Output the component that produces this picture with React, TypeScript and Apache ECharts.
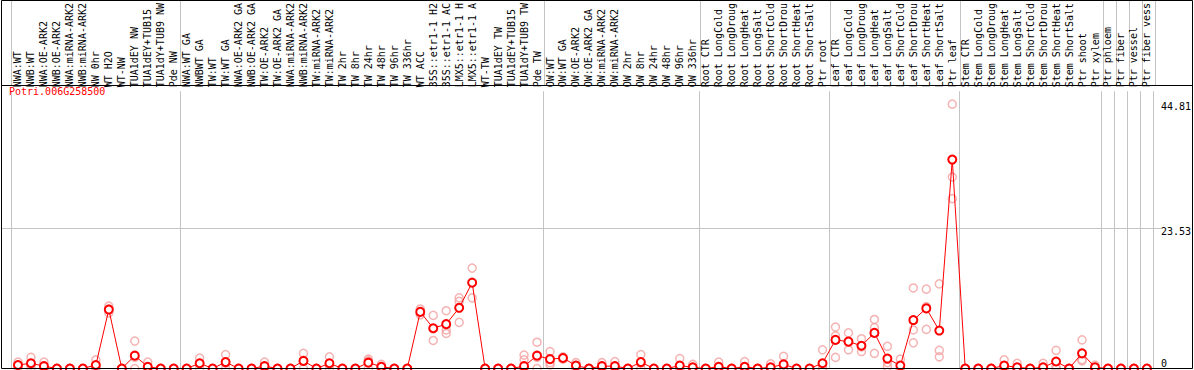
import React, { useEffect, useRef } from "react";
import * as echarts from "echarts";

const chartTitle = "Potri.006G258500";

const categories = [
  "NWA:WT", "NWB:WT", "NWA:OE-ARK2", "NWB:OE-ARK2", "NWA:miRNA-ARK2", "NWB:miRNA-ARK2",
  "NW 0hr", "WT H2O", "WT-NW", "TUA1dEY NW", "TUA1dEY+TUB15 NW", "TUA1dY+TUB9 NW", "Pde NW",
  "NWA:WT GA", "NWBWT GA", "TW:WT", "TW:WT GA", "NWA:OE-ARK2 GA", "NWB:OE-ARK2 GA",
  "TW:OE-ARK2", "TW:OE-ARK2 GA", "NWA:miRNA-ARK2", "NWB:miRNA-ARK2", "TW:miRNA-ARK2",
  "TW:miRNA-ARK2", "TW 2hr", "TW 8hr", "TW 24hr", "TW 48hr", "TW 96hr", "TW 336hr", "WT ACC",
  "35S::etr1-1 H2O", "35S::etr1-1 ACC", "LMX5::etr1-1 H2O", "LMX5::etr1-1 ACC", "WT-TW",
  "TUA1dEY TW", "TUA1dEY+TUB15 TW", "TUA1dY+TUB9 TW", "Pde TW",
  "OW:WT", "OW:WT GA", "OW:OE-ARK2", "OW:OE-ARK2 GA", "OW:miRNA-ARK2", "OW:miRNA-ARK2",
  "OW 2hr", "OW 8hr", "OW 24hr", "OW 48hr", "OW 96hr", "OW 336hr",
  "Root CTR", "Root LongCold", "Root LongDrought", "Root LongHeat", "Root LongSalt",
  "Root ShortCold", "Root ShortDrought", "Root ShortHeat", "Root ShortSalt", "Ptr root",
  "Leaf CTR", "Leaf LongCold", "Leaf LongDrought", "Leaf LongHeat", "Leaf LongSalt",
  "Leaf ShortCold", "Leaf ShortDrought", "Leaf ShortHeat", "Leaf ShortSalt", "Ptr leaf",
  "Stem CTR", "Stem LongCold", "Stem LongDrought", "Stem LongHeat", "Stem LongSalt",
  "Stem ShortCold", "Stem ShortDrought", "Stem ShortHeat", "Stem ShortSalt", "Ptr shoot",
  "Ptr xylem", "Ptr phloem", "Ptr fiber", "Ptr vessel", "Ptr fiber vessel",
];

const meanValues = [
  0.6, 0.9, 0.4, 0, 0, 0, 0.6, 10.1, 0, 2.2, 0.3, 0, 0,
  0, 0.9, 0, 1.1, 0, 0, 0.4, 0, 0, 1.3, 0, 0.9, 0, 0, 1.0, 0.3, 0, 0, 9.7, 6.9, 7.6, 10.4, 14.7, 0, 0, 0, 0.4, 2.2,
  1.6, 1.8, 0.5, 0, 0.4, 0.4, 0, 1.1, 0, 0, 0.5, 0.2,
  0, 0.3, 0, 0.3, 0, 0.2, 0.7, 0, 0, 0.9,
  4.9, 4.6, 3.9, 6.1, 1.7, 0.5, 8.3, 10.3, 6.5, 35.8,
  0, 0, 0, 0.5, 0.2, 0, 0.2, 1.2, 0, 2.6,
  0.2, 0, 0, 0, 0,
];

const rep1 = [
  1.1, 1.9, 1.1, 0, 0, 0, 1.5, 10.7, 0, 4.7, 1.1, 0, 0,
  0, 1.8, 0, 2.4, 0, 0, 1.1, 0, 0, 2.6, 0, 2.0, 0, 0, 1.6, 0.7, 0, 0, 10.2, 9.1, 9.9, 12.1, 17.2, 0, 0, 0, 2.3, 4.5,
  2.9, 2.0, 1.0, 0, 1.0, 1.2, 0, 2.4, 0, 0, 1.7, 0.7,
  0, 1.1, 0, 1.2, 0, 0.8, 2.1, 0, 0, 3.2,
  7.1, 6.1, 5.1, 8.4, 3.8, 1.6, 13.8, 13.6, 14.5, 45.3,
  0, 0, 0, 1.5, 0.9, 0, 0.9, 3.1, 0, 4.9,
  0.6, 0, 0, 0, 0,
];

const rep2 = [
  0.5, 0.6, 0, 0, 0, 0, 0.3, 10.2, 0, 1.9, 0, 0, 0,
  0, 0.8, 0, 0.9, 0, 0, 0.2, 0, 0, 1.2, 0, 0.6, 0, 0, 1.3, 0.2, 0, 0, 9.7, 6.8, 6.6, 11.5, 14.8, 0, 0, 0, 1.5, 1.9,
  1.0, 1.8, 0.5, 0, 0.3, 0.1, 0, 0.9, 0, 0, 0, 0,
  0, 0, 0, 0, 0, 0, 0, 0, 0, 0,
  5.6, 4.5, 3.7, 7.0, 1.0, 0, 6.6, 10.6, 3.1, 32.8,
  0, 0, 0, 0, 0, 0, 0, 0.4, 0, 1.5,
  0, 0, 0, 0, 0,
];

const rep3 = [
  0.2, 0.1, 0, 0, 0, 0, 0, 9.5, 0, 0, 0, 0, 0,
  0, 0, 0, 0, 0, 0, 0, 0, 0, 0, 0, 0, 0, 0, 0, 0, 0, 0, 9.2, 4.8, 6.0, 7.9, 12.1, 0, 0, 0, 0, 0,
  0.6, 1.6, 0, 0, 0, 0, 0, 0, 0, 0, 0, 0,
  0, 0, 0, 0, 0, 0, 0, 0, 0, 0,
  1.9, 3.2, 2.9, 2.6, 0.3, 0, 4.4, 6.7, 2.0, 29.1,
  0, 0, 0, 0, 0, 0, 0, 0, 0, 1.3,
  0, 0, 0, 0, 0,
];

// indices of the first category of each separated group
const groupStarts = [0, 13, 41, 53, 63, 73, 84, 85, 86, 87];
const yMax = 47.5;
const yLabelValues = [0, 23.53, 44.81];
const yGridValues = [23.53];

export default function App() {
  const ref = useRef<HTMLDivElement>(null);

  useEffect(() => {
    if (!ref.current) return;
    const chart = echarts.init(ref.current, null, { renderer: "svg" });
    const font = "DejaVu Sans Mono";
    const sepInterval = (index: number) => groupStarts.indexOf(index) >= 0;
    const sepLine = { show: true, interval: sepInterval, lineStyle: { color: "#c4c4c4", width: 1 } };

    const repData: number[][] = [];
    [rep1, rep2, rep3].forEach((arr) => arr.forEach((v, i) => repData.push([i, v])));

    chart.setOption({
      animation: false,
      backgroundColor: "#ffffff",
      title: {
        text: chartTitle,
        left: 9,
        top: 86,
        padding: 0,
        textStyle: { color: "#ff0000", fontFamily: font, fontSize: 10, fontWeight: "normal" },
      },
      grid: [
        { left: 11.5, right: 38.5, top: 85.5, bottom: 1.5 },
        { left: 11.5, right: 38.5, top: 0, height: 85.5 },
        { left: 1, right: 31, top: 85.5, bottom: 1.5 },
      ],
      xAxis: [
        {
          type: "category",
          gridIndex: 0,
          data: categories,
          position: "top",
          boundaryGap: true,
          axisLine: { show: false },
          axisTick: { show: false },
          axisLabel: {
            rotate: 90,
            margin: 4,
            interval: 0,
            fontFamily: font,
            fontSize: 10,
            color: "#000",
            width: 86,
            overflow: "truncate",
            ellipsis: "",
          },
          splitLine: sepLine,
        },
        {
          type: "category",
          gridIndex: 1,
          data: categories,
          boundaryGap: true,
          axisLine: { show: false },
          axisTick: { show: false },
          axisLabel: { show: false },
          splitLine: sepLine,
        },
        { type: "value", gridIndex: 2, show: false, min: 0, max: 1 },
      ],
      yAxis: [
        {
          type: "value",
          gridIndex: 0,
          min: 0,
          max: yMax,
          position: "right",
          axisLine: { show: false },
          axisTick: { show: false },
          splitLine: { show: false },
          axisLabel: {
            customValues: yLabelValues,
            formatter: (v: number) => String(v),
            margin: 7.5,
            fontFamily: font,
            fontSize: 10,
            color: "#000",
            verticalAlign: "middle",
            verticalAlignMinLabel: "bottom",
            padding: [9, 0, 0, 0],
          },
        },
        { type: "value", gridIndex: 1, show: false, min: 0, max: 1 },
        {
          type: "value",
          gridIndex: 2,
          min: 0,
          max: yMax,
          axisLine: { show: false },
          axisLabel: { show: false },
          axisTick: { show: false, customValues: yGridValues },
          splitLine: { show: true, lineStyle: { color: "#c4c4c4", width: 1 } },
        },
      ],
      graphic: [
        {
          type: "rect",
          shape: { x: 1.5, y: 0.5, width: 1191, height: 368 },
          style: { fill: "none", stroke: "#000", lineWidth: 1 },
          z: 100,
          silent: true,
        },
        {
          type: "line",
          shape: { x1: 1, y1: 85.5, x2: 1193, y2: 85.5 },
          style: { stroke: "#000", lineWidth: 1 },
          z: 100,
          silent: true,
        },
      ],
      series: [
        {
          name: "replicates",
          type: "scatter",
          xAxisIndex: 0,
          yAxisIndex: 0,
          data: repData,
          symbol: "circle",
          symbolSize: 8,
          itemStyle: { color: "rgba(0,0,0,0)", borderColor: "#f2a0a0", borderWidth: 1.5 },
          z: 2,
        },
        {
          name: "mean",
          type: "line",
          xAxisIndex: 0,
          yAxisIndex: 0,
          data: meanValues,
          symbol: "emptyCircle",
          symbolSize: 8,
          showAllSymbol: true,
          lineStyle: { color: "#ff0000", width: 1 },
          itemStyle: { color: "#ff0000", borderColor: "#ff0000", borderWidth: 2 },
          z: 3,
        },
      ],
    });

    return () => chart.dispose();
  }, []);

  return (
    <div
      ref={ref}
      style={{ position: "absolute", left: 0, top: 0, width: 1194, height: 370 }}
    />
  );
}
